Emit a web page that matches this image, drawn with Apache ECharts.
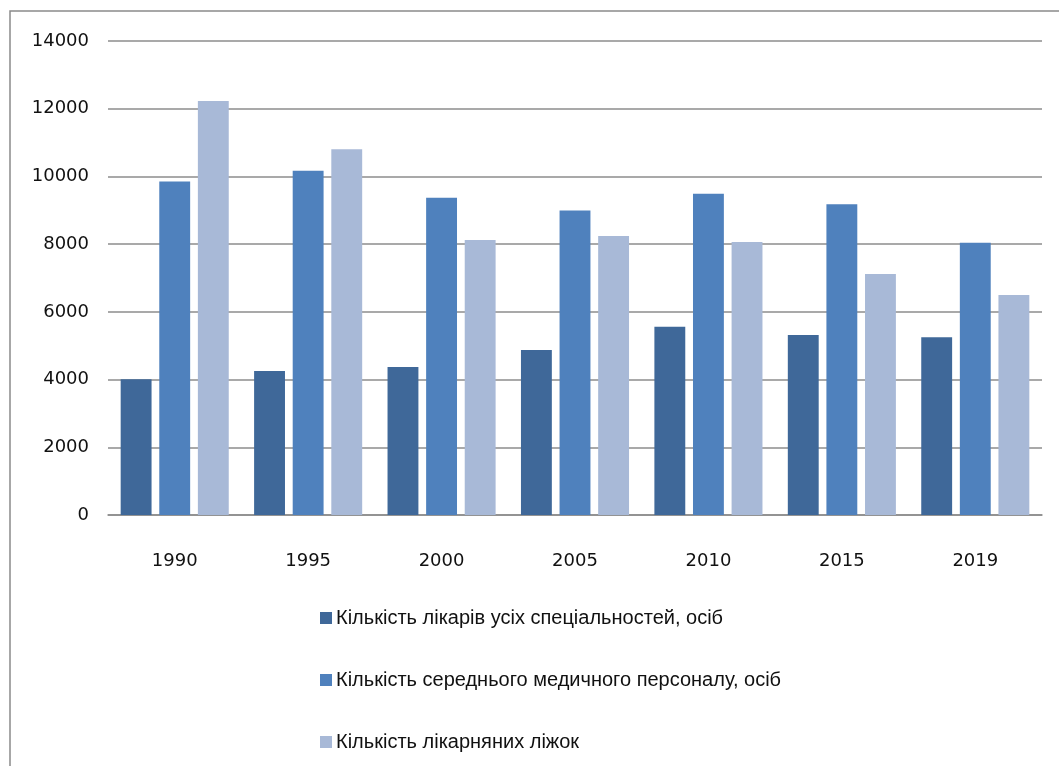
<!DOCTYPE html>
<html>
<head>
<meta charset="utf-8">
<script src="https://cdn.jsdelivr.net/npm/echarts@6/dist/echarts.min.js"></script>
<style>
html,body{margin:0;padding:0;background:#fff;}
#c{width:1059px;height:766px;}
</style>
</head>
<body>
<div id="c"></div>
<script>
const categories = ['1990', '1995', '2000', '2005', '2010', '2015', '2019'];
const seriesNames = [
  'Кількість лікарів усіх спеціальностей, осіб',
  'Кількість середнього медичного персоналу, осіб',
  'Кількість лікарняних ліжок'
];
const doctors = [4010, 4250, 4370, 4870, 5560, 5320, 5250];
const nurses = [9850, 10170, 9370, 8990, 9490, 9180, 8040];
const beds = [12230, 10800, 8120, 8240, 8060, 7120, 6500];
const yTicks = [0, 2000, 4000, 6000, 8000, 10000, 12000, 14000];

const colors = ['#3F6899', '#4F81BD', '#A8B9D7'];
const axisFont = 'DejaVu Sans, Liberation Sans, sans-serif';
const legendFont = 'Liberation Sans, Arial, sans-serif';

const chart = echarts.init(document.getElementById('c'));
chart.setOption({
  animation: false,
  backgroundColor: '#fff',
  graphic: [{
    type: 'rect',
    shape: { x: 10, y: 11, width: 1100, height: 800 },
    style: { fill: 'none', stroke: '#8a8a8a', lineWidth: 1.5 },
    silent: true
  }],
  grid: { left: 108, right: 17, top: 41, bottom: 251 },
  legend: {
    orient: 'vertical',
    left: 315,
    top: 603,
    itemGap: 42,
    itemWidth: 12,
    itemHeight: 12,
    icon: 'rect',
    textStyle: { fontSize: 20, color: '#111', fontFamily: legendFont, padding: [0, 0, 0, -1] },
    data: seriesNames
  },
  xAxis: {
    type: 'category',
    data: categories,
    axisTick: { show: false },
    axisLine: { show: true, lineStyle: { color: '#8c8c8c', width: 1.5 } },
    axisLabel: { margin: 37, fontSize: 18, color: '#111', fontFamily: axisFont }
  },
  yAxis: {
    type: 'value',
    min: yTicks[0],
    max: yTicks[yTicks.length - 1],
    interval: 2000,
    axisLine: { show: false },
    axisTick: { show: false },
    splitLine: { lineStyle: { color: '#8c8c8c', width: 1.5 } },
    axisLabel: { margin: 19, fontSize: 18, color: '#111', fontFamily: axisFont, formatter: v => String(v) }
  },
  series: [
    { name: seriesNames[0], type: 'bar', data: doctors, itemStyle: { color: colors[0] }, barGap: '25%', barCategoryGap: '19%' },
    { name: seriesNames[1], type: 'bar', data: nurses, itemStyle: { color: colors[1] }, barGap: '25%', barCategoryGap: '19%' },
    { name: seriesNames[2], type: 'bar', data: beds, itemStyle: { color: colors[2] }, barGap: '25%', barCategoryGap: '19%' }
  ]
});
</script>
</body>
</html>
